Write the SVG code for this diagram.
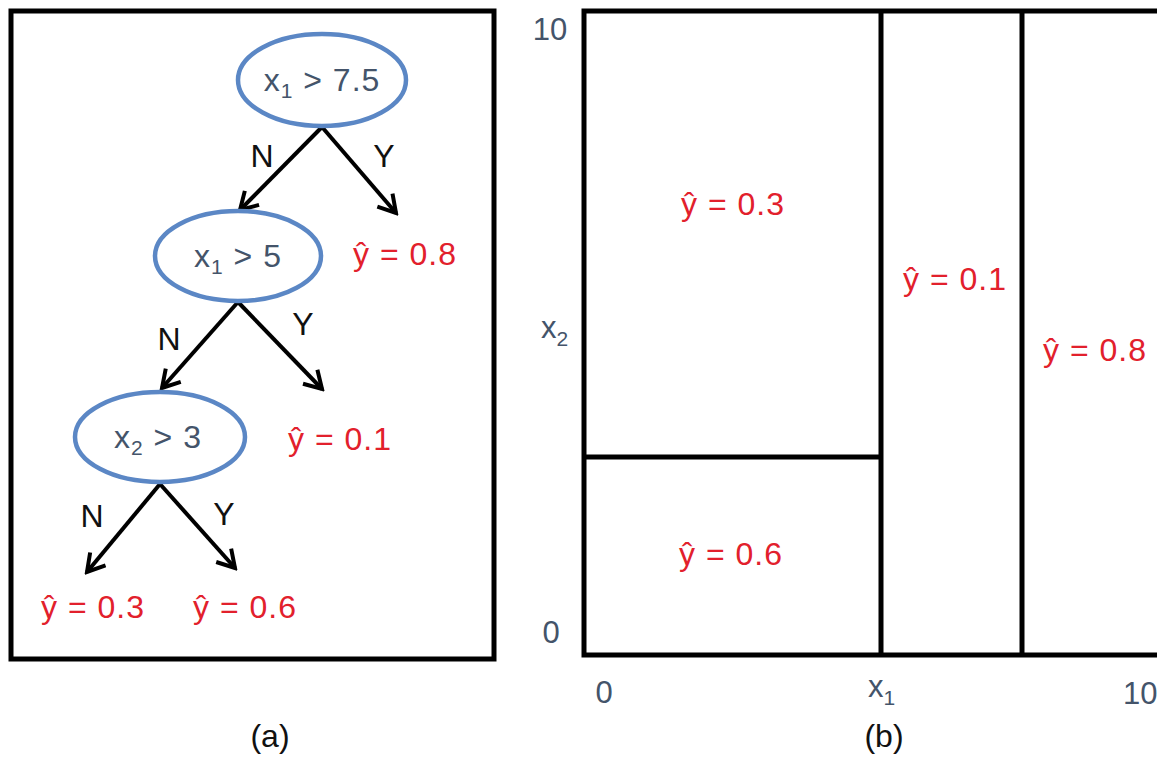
<svg xmlns="http://www.w3.org/2000/svg" width="1157" height="757" viewBox="0 0 1157 757">
<style>
.frame{fill:none;stroke:#000;stroke-width:5}
.pl{stroke:#000;stroke-width:5;fill:none}
.ell{fill:#fff;stroke:#5B87C5;stroke-width:4.5}
.cond{font-family:"Liberation Sans",Arial,sans-serif;font-size:32px;fill:#44546A;letter-spacing:1px}
.ax{font-family:"Liberation Sans",Arial,sans-serif;font-size:31px;fill:#44546A}
.leaf{font-family:"Liberation Sans",Arial,sans-serif;font-size:32px;fill:#E2202C;letter-spacing:1px}
.lbl{font-family:"Liberation Sans",Arial,sans-serif;font-size:32px;fill:#111}
.sub{font-size:21px}
.arr{stroke:#000;stroke-width:4;fill:none;marker-end:url(#ah)}
</style>
<defs>
<marker id="ah" viewBox="0 0 24 24" refX="21" refY="12" markerWidth="24" markerHeight="24" markerUnits="userSpaceOnUse" orient="auto">
<path d="M4,2 L21,12 L4,22" fill="none" stroke="#000" stroke-width="4" stroke-linejoin="miter"/>
</marker>
</defs>
<rect width="1157" height="757" fill="#fff"/>

<g id="panel-a">
<rect class="frame" x="11" y="11" width="483" height="648"/>
</g>

<g id="connectors">
<line class="arr" x1="322" y1="127" x2="240" y2="210"/>
<line class="arr" x1="322" y1="127" x2="396" y2="213"/>
<line class="arr" x1="238" y1="302" x2="162" y2="388"/>
<line class="arr" x1="238" y1="302" x2="322" y2="389"/>
<line class="arr" x1="160" y1="484" x2="87" y2="572"/>
<line class="arr" x1="160" y1="484" x2="235" y2="568"/>
<text class="lbl" x="262" y="167" text-anchor="middle">N</text>
<text class="lbl" x="384" y="167" text-anchor="middle">Y</text>
<text class="lbl" x="169" y="350" text-anchor="middle">N</text>
<text class="lbl" x="303" y="335" text-anchor="middle">Y</text>
<text class="lbl" x="92" y="527" text-anchor="middle">N</text>
<text class="lbl" x="224" y="525" text-anchor="middle">Y</text>
</g>

<g id="node-root">
<ellipse class="ell" cx="322" cy="80" rx="84" ry="46"/>
<text class="cond" x="322" y="91" text-anchor="middle">x<tspan class="sub" dy="7">1</tspan><tspan dy="-7"> &gt; 7.5</tspan></text>
</g>
<g id="node-x1-5">
<ellipse class="ell" cx="238" cy="256" rx="83" ry="45"/>
<text class="cond" x="238" y="267" text-anchor="middle">x<tspan class="sub" dy="7">1</tspan><tspan dy="-7"> &gt; 5</tspan></text>
</g>
<g id="node-x2-3">
<ellipse class="ell" cx="160" cy="437" rx="85" ry="45"/>
<text class="cond" x="158" y="448" text-anchor="middle">x<tspan class="sub" dy="7">2</tspan><tspan dy="-7"> &gt; 3</tspan></text>
</g>
<g id="leaf-08"><text class="leaf" x="405" y="265" text-anchor="middle">ŷ = 0.8</text></g>
<g id="leaf-01"><text class="leaf" x="340" y="450" text-anchor="middle">ŷ = 0.1</text></g>
<g id="leaf-03"><text class="leaf" x="93" y="618" text-anchor="middle">ŷ = 0.3</text></g>
<g id="leaf-06"><text class="leaf" x="245" y="618" text-anchor="middle">ŷ = 0.6</text></g>
<text class="lbl" x="270" y="747" text-anchor="middle">(a)</text>

<g id="panel-b">
<path class="pl" d="M1165,11 H584 V655 H1165"/>
<line class="pl" x1="881" y1="11" x2="881" y2="655"/>
<line class="pl" x1="1022" y1="11" x2="1022" y2="655"/>
<line class="pl" x1="584" y1="457" x2="881" y2="457"/>
<text class="ax" x="550" y="40" text-anchor="middle">10</text>
<text class="ax" x="551" y="643" text-anchor="middle">0</text>
<text class="ax" x="541" y="338">x<tspan class="sub" dy="8">2</tspan></text>
<text class="ax" x="604" y="703" text-anchor="middle">0</text>
<text class="ax" x="868" y="697">x<tspan class="sub" dy="8">1</tspan></text>
<text class="ax" x="1123" y="704">10</text>
<text class="leaf" x="733" y="215" text-anchor="middle">ŷ = 0.3</text>
<text class="leaf" x="955" y="290" text-anchor="middle">ŷ = 0.1</text>
<text class="leaf" x="1095" y="361" text-anchor="middle">ŷ = 0.8</text>
<text class="leaf" x="731" y="565" text-anchor="middle">ŷ = 0.6</text>
<text class="lbl" x="884" y="747" text-anchor="middle">(b)</text>
</g>
</svg>
